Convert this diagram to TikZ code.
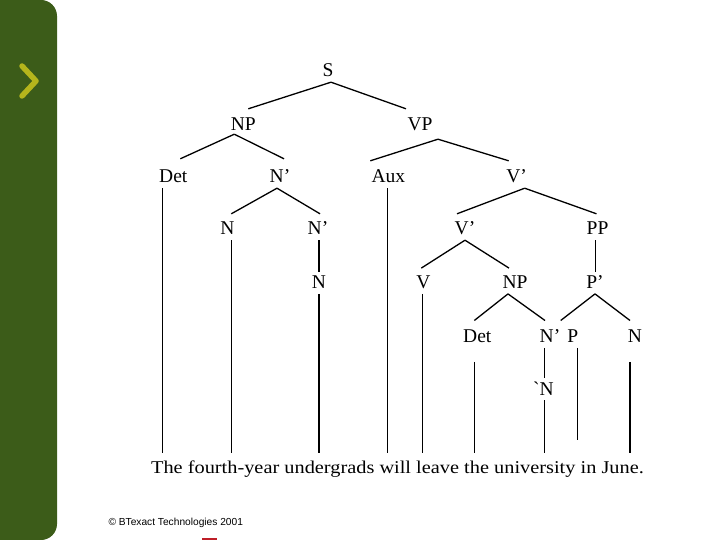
\documentclass[tikz,border=0pt]{standalone}
\usepackage{fontspec}
\setmainfont{Liberation Serif}
\newfontfamily\arialf{Liberation Sans}
\newfontfamily\sentf[FakeStretch=1.13]{Liberation Serif}
\newfontfamily\rawserif[Ligatures=TeXOff]{Liberation Serif}
\definecolor{panel}{RGB}{60,92,25}
\definecolor{chev}{RGB}{181,181,28}
\definecolor{logored}{RGB}{190,30,40}
\begin{document}
\begin{tikzpicture}[x=1pt,y=-1pt,
  lab/.style={font=\fontsize{19.5}{20}\selectfont, inner sep=0pt, text height=21.3pt, text depth=5.7pt, anchor=base},
  br/.style={line width=1.3pt}]
\useasboundingbox (0,0) rectangle (720,540);
% side panel
\fill[panel] (0,0) -- (41,0) arc[start angle=-90,end angle=0,radius=16] -- (57,524) arc[start angle=0,end angle=90,radius=16] -- (0,540) -- cycle;
\draw[chev, line width=5.5pt, line cap=round, line join=round] (22,66) -- (36,81) -- (22,96);
% reference coordinates
\coordinate (base) at (0,453);
\coordinate (pend) at (0,440);
% labels
\node[lab] (S) at (328,76.3) {S};
\node[lab] (np1) at (243.3,130.3) {NP};
\node[lab] (vp) at (420,130.3) {VP};
\node[lab] (det1) at (173.3,182.3) {Det};
\node[lab] (nb1) at (280,182.3) {N’};
\node[lab] (aux) at (388.3,182.3) {Aux};
\node[lab] (vb1) at (516.7,182.3) {V’};
\node[lab] (n1) at (227.3,234.3) {N};
\node[lab] (nb2) at (318,234.3) {N’};
\node[lab] (vb2) at (465,234.3) {V’};
\node[lab] (pp) at (597.5,234.3) {PP};
\node[lab] (n2) at (319,288) {N};
\node[lab] (v) at (423.3,288) {V};
\node[lab] (np2) at (515,288) {NP};
\node[lab] (pb) at (595,288) {P’};
\node[lab] (det2) at (477.3,342) {Det};
\node[lab] (nb3) at (550,342) {N’};
\node[lab] (p) at (572.7,342) {P};
\node[lab] (n4) at (543.3,395.3) {\rawserif`N};
\node[lab] (n3) at (635,342) {N};
\node[font=\sentf\fontsize{18}{20}\selectfont, anchor=base, inner sep=0pt] (sent) at (397.5,473) {The fourth-year undergrads will leave the university in June.};
\node[font=\arialf\fontsize{10.2}{11}\selectfont, anchor=base west, inner sep=0pt] (copy) at (108.3,525) {© BTexact Technologies 2001};
\fill[logored] (202,537.5) rectangle (217,540);
% branches
\draw[br] ([xshift=3pt]S.south) -- ([xshift=5pt]np1.north);
\draw[br] ([xshift=3pt]S.south) -- ([xshift=-14pt]vp.north);
\draw[br] ([xshift=-9pt,yshift=2pt]np1.south) -- ([xshift=7pt,yshift=2pt]det1.north);
\draw[br] ([xshift=-9pt,yshift=2pt]np1.south) -- ([xshift=4pt,yshift=2pt]nb1.north);
\draw[br] ([xshift=18pt,yshift=-3pt]vp.south) -- ([xshift=-18pt]aux.north);
\draw[br] ([xshift=18pt,yshift=-3pt]vp.south) -- ([xshift=-8pt]vb1.north);
\draw[br] ([xshift=-3pt]nb1.south) -- ([xshift=4pt,yshift=-1pt]n1.north);
\draw[br] ([xshift=-3pt]nb1.south) -- ([xshift=2pt,yshift=-1pt]nb2.north);
\draw[br] ([xshift=8pt]vb1.south) -- ([xshift=-8pt,yshift=-1pt]vb2.north);
\draw[br] ([xshift=8pt]vb1.south) -- ([xshift=-1pt,yshift=-1pt]pp.north);
\draw[br] (vb2.south) -- ([xshift=-2pt,yshift=-1.6pt]v.north);
\draw[br] (vb2.south) -- ([xshift=-6pt,yshift=-1.6pt]np2.north);
\draw[br] ([xshift=-7pt]np2.south) -- ([xshift=-3pt]det2.north);
\draw[br] ([xshift=-7pt]np2.south) -- ([xshift=-5pt]nb3.north);
\draw[br] (pb.south) -- ([xshift=-12pt]p.north);
\draw[br] (pb.south) -- ([xshift=-5pt]n3.north);
% unary / terminal lines
\draw[br] ([xshift=-11pt]det1.south) -- ([xshift=-11pt]det1.south |- base);
\draw[br] ([xshift=-1pt]aux.south) -- ([xshift=-1pt]aux.south |- base);
\draw[br] ([xshift=4.4pt]n1.south) -- ([xshift=4.4pt]n1.south |- base);
\draw[br] ([xshift=1pt]nb2.south) -- ([yshift=-5pt]n2.north);
\draw[br] (n2.south) -- (n2.south |- base);
\draw[br] ([xshift=-1.8pt]pp.south) -- ([xshift=0.7pt,yshift=-5pt]pb.north);
\draw[br] ([xshift=-0.6pt]v.south) -- ([xshift=-0.6pt]v.south |- base);
\draw[br] ([xshift=-5.7pt]nb3.south) -- ([xshift=1pt,yshift=-4pt]n4.north);
\draw[br] ([xshift=1pt,yshift=1pt]n4.south) -- ([xshift=1pt]n4.south |- base);
\draw[br] ([xshift=5pt]p.south) -- ([xshift=5pt]p.south |- pend);
\draw[br] ([xshift=-3pt,yshift=-14pt]det2.south) -- ([xshift=-3pt]det2.south |- base);
\draw[br] ([xshift=-5pt,yshift=-14pt]n3.south) -- ([xshift=-5pt]n3.south |- base);
\end{tikzpicture}
\end{document}
